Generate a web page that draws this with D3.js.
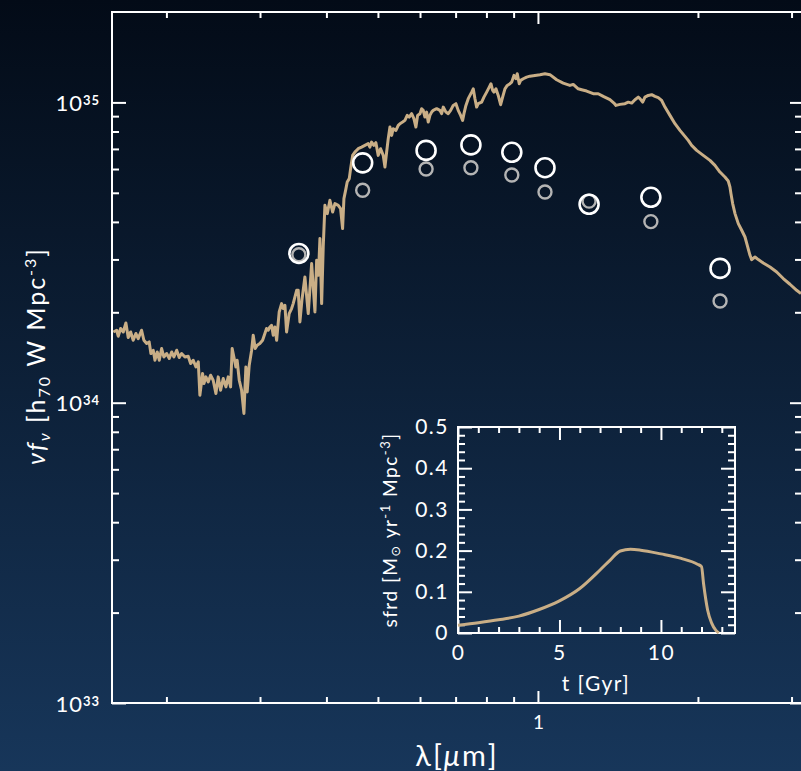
<!DOCTYPE html>
<html lang="en">
<head>
  <meta charset="UTF-8">
  <script src="https://d3js.org/d3.v7.min.js"></script>
  <style>
    body { margin: 0; background: #0b1f38; }
    svg { display: block; }
    text { font-family: Lato, "Open Sans", "DejaVu Sans", sans-serif; fill: #fff; }
  </style>
</head>
<body>
<script>
  // photometric points (micron) and luminosity densities in units of 1e34
  const bandWave = [0.355, 0.468, 0.616, 0.748, 0.893, 1.031, 1.248, 1.631, 2.201];
  const whiteFlux = [3.14, 6.29, 6.92, 7.22, 6.82, 6.06, 4.58, 4.83, 2.80];
  const greyFlux = [3.11, 5.10, 6.00, 6.06, 5.73, 5.03, 4.69, 4.01, 2.18];

  // model spectrum, wavelength in micron, flux in units of 1e34
  const specWave = [
    0.1589, 0.1612, 0.1623, 0.1640, 0.1659, 0.1678, 0.1695, 0.1713, 0.1732, 0.1752,
    0.1770, 0.1796, 0.1814, 0.1836, 0.1856, 0.1870, 0.1889, 0.1903, 0.1922, 0.1939,
    0.1959, 0.1978, 0.2002, 0.2025, 0.2046, 0.2066, 0.2091, 0.2114, 0.2136, 0.2167,
    0.2198, 0.2221, 0.2246, 0.2273, 0.2296, 0.2312, 0.2339, 0.2353, 0.2373, 0.2397,
    0.2422, 0.2449, 0.2478, 0.2503, 0.2529, 0.2558, 0.2588, 0.2614, 0.2641, 0.2659,
    0.2679, 0.2702, 0.2717, 0.2742, 0.2770, 0.2798, 0.2822, 0.2838, 0.2863, 0.2893,
    0.2913, 0.2938, 0.2964, 0.2998, 0.3034, 0.3064, 0.3086, 0.3108, 0.3131, 0.3154,
    0.3177, 0.3200, 0.3224, 0.3260, 0.3294, 0.3317, 0.3342, 0.3366, 0.3404, 0.3440,
    0.3464, 0.3516,
    0.3540, 0.3566, 0.3597, 0.3644, 0.3697, 0.3752, 0.3806, 0.3834, 0.3864, 0.3889,
    0.3918, 0.3945, 0.3974, 0.4015, 0.4061, 0.4109, 0.4150, 0.4210,
    0.4253, 0.4290, 0.4315, 0.4353, 0.4377, 0.4416, 0.4442, 0.4481, 0.4525, 0.4590,
    0.4658, 0.4725, 0.4793, 0.4829, 0.4864, 0.4913, 0.4956, 0.5006, 0.5058, 0.5116,
    0.5154, 0.5192, 0.5228, 0.5267, 0.5306, 0.5342, 0.5405, 0.5460, 0.5500, 0.5564,
    0.5620, 0.5676, 0.5726, 0.5786, 0.5843, 0.5894, 0.5938, 0.5998, 0.6042, 0.6084,
    0.6129, 0.6174, 0.6217, 0.6263, 0.6310, 0.6353, 0.6448, 0.6540, 0.6589, 0.6635,
    0.6713, 0.6780, 0.6851, 0.6928, 0.7010, 0.7080, 0.7155, 0.7216, 0.7258, 0.7320,
    0.7394, 0.7449, 0.7504, 0.7556, 0.7612, 0.7668, 0.7721, 0.7836, 0.7914, 0.8008,
    0.8098, 0.8158, 0.8218, 0.8264, 0.8337, 0.8420, 0.8508, 0.8582, 0.8668, 0.8755,
    0.8859, 0.8925, 0.9013, 0.9091, 0.9143, 0.9222, 0.9277, 0.9383, 0.9522, 0.9659,
    0.9871, 1.0087, 1.0309, 1.0534,
    1.0844, 1.1157, 1.1486, 1.1652, 1.1906, 1.2083, 1.2348, 1.2706, 1.2986, 1.3270,
    1.3661, 1.3900, 1.4022, 1.4267, 1.4579, 1.4789, 1.5008, 1.5224, 1.5443, 1.5557,
    1.5741, 1.5898, 1.6127, 1.6366, 1.6601, 1.6840, 1.7091, 1.7338, 1.7717, 1.8105,
    1.8501, 1.8906, 1.9178, 1.9463, 1.9889, 2.0464, 2.1068, 2.1528, 2.2000, 2.2481,
    2.2805, 2.2974, 2.3075, 2.3245, 2.3482, 2.3820, 2.4174, 2.4521, 2.4765, 2.5058,
    2.5243, 2.5606, 2.5975, 2.6543, 2.7325, 2.8129, 2.8943, 2.9796, 3.0673, 3.1250
  ];
  const specFlux = [
    1.720, 1.743, 1.665, 1.766, 1.720, 1.843, 1.648, 1.720, 1.614, 1.700,
    1.635, 1.743, 1.614, 1.574, 1.594, 1.458, 1.495, 1.385, 1.476, 1.385,
    1.515, 1.420, 1.458, 1.403, 1.476, 1.420, 1.495, 1.414, 1.458, 1.420,
    1.428, 1.350, 1.385, 1.316, 1.367, 1.059, 1.251, 1.158, 1.219, 1.173,
    1.235, 1.188, 1.073, 1.219, 1.100, 1.204, 1.129, 1.219, 1.129, 1.515,
    1.420, 1.316, 1.385, 1.188, 1.100, 0.921, 1.316, 1.086, 1.333, 1.495,
    1.677, 1.515, 1.554, 1.574, 1.614, 1.700, 1.766, 1.743, 1.787, 1.811,
    1.677, 1.787, 1.614, 2.005, 2.138, 2.058, 2.111, 1.720, 1.980, 2.058,
    2.138, 2.368,
    2.368, 1.857, 2.193, 2.622, 1.980, 2.905, 2.005, 2.980, 2.657, 3.519,
    2.138, 3.300, 4.542, 4.263, 4.720, 4.315, 4.602, 4.542,
    4.430, 3.800, 4.781, 5.162, 5.430, 5.573, 6.017, 6.662, 6.832, 7.013,
    7.100, 7.193, 7.288, 7.100, 7.378, 7.193, 7.344, 6.662, 7.013, 6.662,
    6.091, 6.832, 7.572, 8.276, 7.766, 8.175, 8.069, 8.385, 8.494, 8.600,
    8.712, 9.052, 8.936, 9.172, 8.828, 8.276, 9.052, 9.172, 9.528, 9.406,
    8.936, 9.284, 8.600, 9.052, 9.284, 9.406, 9.528, 9.406, 9.172, 9.647,
    9.284, 9.172, 9.406, 9.772, 9.901, 9.406, 9.052, 8.712, 9.172, 9.772,
    10.29, 10.55, 10.82, 11.10, 10.29, 9.647, 9.901, 10.02, 10.41, 10.82,
    11.24, 11.54, 10.96, 10.82, 11.10, 10.55, 9.826, 10.41, 11.10, 11.39,
    11.54, 11.68, 12.30, 11.99, 12.46, 11.54, 11.84, 11.99, 12.14, 12.23,
    12.30, 12.37, 12.46, 12.37,
    11.90, 11.60, 11.39, 11.48, 11.10, 11.02, 10.91, 10.69, 10.69, 10.47,
    10.21, 9.947, 9.772, 9.849, 9.901, 10.02, 9.947, 10.21, 10.41, 10.29,
    10.02, 10.41, 10.55, 10.61, 10.47, 10.37, 10.15, 9.647, 9.052, 8.494,
    8.069, 7.707, 7.474, 7.193, 6.922, 6.662, 6.412, 6.170, 5.862, 5.642,
    5.472, 5.226, 4.968, 4.602, 4.263, 3.948, 3.751, 3.563, 3.343, 3.097,
    2.996, 3.057, 2.996, 2.919, 2.831, 2.725, 2.591, 2.480, 2.368, 2.308
  ];

  // inset: star formation rate density history
  const sfrdTime = [0, 1, 2, 3, 4, 5, 6, 7, 7.5, 8, 8.5, 9, 10, 11, 11.8, 12.0, 12.1, 12.3, 12.5, 12.7, 12.85];
  const sfrdRate = [0.019, 0.025, 0.032, 0.041, 0.057, 0.078, 0.108, 0.153, 0.177, 0.199, 0.203, 0.201, 0.192, 0.181, 0.167, 0.161, 0.12, 0.056, 0.024, 0.007, 0];

  const yDecades = [33, 34, 35];
  const xMinorTicks = [0.2, 0.3, 0.4, 0.5, 0.6, 0.7, 0.8, 0.9, 2, 3];
  const xMajorTicks = [1];
  const insetXMajor = [0, 5, 10];
  const insetYMajor = [0, 0.1, 0.2, 0.3, 0.4, 0.5];

  const width = 801, height = 771;
  const lineColor = "#c9ae86";

  const svg = d3.select("body").append("svg")
    .attr("width", width)
    .attr("height", height);

  const grad = svg.append("defs").append("linearGradient")
    .attr("id", "bg").attr("x1", 0).attr("y1", 0).attr("x2", 0).attr("y2", 1);
  grad.append("stop").attr("offset", "0%").attr("stop-color", "#030b17");
  grad.append("stop").attr("offset", "100%").attr("stop-color", "#17365a");
  svg.append("rect").attr("width", width).attr("height", height).attr("fill", "url(#bg)");

  svg.append("clipPath").attr("id", "plotclip")
    .append("rect").attr("x", 112).attr("y", 12).attr("width", 690).attr("height", 691);

  // main scales
  const x = d3.scaleLog().domain([0.158, 3.139]).range([112, 802]);
  const y = d3.scaleLog().domain([1e33, 2e35]).range([703, 12]);

  const yMajor = yDecades.map(e => Math.pow(10, e));
  const yMinor = [];
  yDecades.forEach(e => {
    for (let k = 2; k <= 9; k++) {
      const v = k * Math.pow(10, e);
      if (v < 2e35) yMinor.push(v);
    }
  });

  function styleAxis(g) {
    g.select(".domain").remove();
    g.selectAll(".tick line").attr("stroke", "#fff").attr("stroke-width", 2);
  }

  // bottom
  svg.append("g").attr("transform", "translate(0,703)")
    .call(d3.axisBottom(x).tickValues(xMinorTicks).tickSize(-6).tickFormat(""))
    .call(styleAxis);
  svg.append("g").attr("transform", "translate(0,703)")
    .call(d3.axisBottom(x).tickValues(xMajorTicks).tickSize(-12).tickPadding(13).tickFormat(d3.format("d")))
    .call(styleAxis)
    .call(g => g.selectAll("text").attr("font-size", 19).attr("fill", "#fff"));
  // top
  svg.append("g").attr("transform", "translate(0,12)")
    .call(d3.axisTop(x).tickValues(xMinorTicks).tickSize(-6).tickFormat(""))
    .call(styleAxis);
  svg.append("g").attr("transform", "translate(0,12)")
    .call(d3.axisTop(x).tickValues(xMajorTicks).tickSize(-12).tickFormat(""))
    .call(styleAxis);
  // left
  svg.append("g").attr("transform", "translate(112,0)")
    .call(d3.axisLeft(y).tickValues(yMinor).tickSize(-7).tickFormat(""))
    .call(styleAxis);
  svg.append("g").attr("transform", "translate(112,0)")
    .call(d3.axisLeft(y).tickValues(yMajor).tickSize(-14).tickPadding(12).tickFormat(""))
    .call(styleAxis)
    .call(g => g.selectAll(".tick text").each(function (d) {
      const t = d3.select(this).attr("dy", null).attr("y", 8).attr("font-size", 22)
        .attr("letter-spacing", 1).attr("fill", "#fff");
      t.append("tspan").text("10");
      t.append("tspan").attr("font-size", 13).attr("font-weight", "bold").attr("dy", -6).text(Math.round(Math.log10(d)));
    }));
  // right
  svg.append("g").attr("transform", "translate(802,0)")
    .call(d3.axisRight(y).tickValues(yMinor).tickSize(-7).tickFormat(""))
    .call(styleAxis);
  svg.append("g").attr("transform", "translate(802,0)")
    .call(d3.axisRight(y).tickValues(yMajor).tickSize(-12).tickFormat(""))
    .call(styleAxis);

  // frame
  svg.append("rect")
    .attr("x", x.range()[0]).attr("y", y.range()[1])
    .attr("width", x.range()[1] - x.range()[0]).attr("height", y.range()[0] - y.range()[1])
    .attr("fill", "none").attr("stroke", "#fff").attr("stroke-width", 2);

  // spectrum
  const spec = specWave.map((w, i) => ({ w: w, f: specFlux[i] * 1e34 }));
  svg.append("path")
    .datum(spec)
    .attr("clip-path", "url(#plotclip)")
    .attr("d", d3.line().x(d => x(d.w)).y(d => y(d.f)))
    .attr("fill", "none")
    .attr("stroke", lineColor)
    .attr("stroke-width", 3)
    .attr("stroke-linejoin", "round");

  // points
  svg.selectAll(".grey")
    .data(bandWave.map((w, i) => ({ w: w, f: greyFlux[i] * 1e34 })))
    .enter().append("circle")
    .attr("class", "grey")
    .attr("cx", d => x(d.w)).attr("cy", d => y(d.f)).attr("r", 6.5)
    .attr("fill", "none").attr("stroke", "#b4b4b4").attr("stroke-width", 2.4);
  svg.selectAll(".white")
    .data(bandWave.map((w, i) => ({ w: w, f: whiteFlux[i] * 1e34 })))
    .enter().append("circle")
    .attr("class", "white")
    .attr("cx", d => x(d.w)).attr("cy", d => y(d.f)).attr("r", 9.5)
    .attr("fill", "none").attr("stroke", "#fff").attr("stroke-width", 2.6);

  // axis titles
  svg.append("text")
    .attr("x", 457).attr("y", 766)
    .attr("text-anchor", "middle").attr("font-size", 29).attr("letter-spacing", 2)
    .call(t => {
      t.append("tspan").text("λ[");
      t.append("tspan").attr("font-style", "italic").text("μ");
      t.append("tspan").text("m]");
    });

  svg.append("text")
    .attr("transform", "translate(45,356) rotate(-90)")
    .attr("text-anchor", "middle").attr("font-size", 25).attr("letter-spacing", 2)
    .call(t => {
      t.append("tspan").attr("font-style", "italic").text("νf");
      t.append("tspan").attr("font-style", "italic").attr("font-size", 16).attr("dy", 5).text("ν");
      t.append("tspan").attr("dy", -5).text(" [h");
      t.append("tspan").attr("font-size", 16).attr("dy", 5).text("70");
      t.append("tspan").attr("dy", -5).text(" W Mpc");
      t.append("tspan").attr("font-size", 16).attr("dy", -9).text("-3");
      t.append("tspan").attr("dy", 9).text("]");
    });

  // inset
  const ix = d3.scaleLinear().domain([0, 13.65]).range([458, 735]);
  const iy = d3.scaleLinear().domain([0, 0.5]).range([633, 427]);
  const insetXMinor = d3.range(1, 14).filter(v => v % 5 !== 0);
  const insetYMinor = d3.range(0.02, 0.5, 0.02).filter(v => Math.abs(v * 10 - Math.round(v * 10)) > 1e-6);

  const ig = svg.append("g");
  ig.append("g").attr("transform", "translate(0,633)")
    .call(d3.axisBottom(ix).tickValues(insetXMinor).tickSize(-6).tickFormat(""))
    .call(styleAxis);
  ig.append("g").attr("transform", "translate(0,633)")
    .call(d3.axisBottom(ix).tickValues(insetXMajor).tickSize(-13).tickPadding(12).tickFormat(d3.format("d")))
    .call(styleAxis)
    .call(g => g.selectAll("text").attr("font-size", 21).attr("letter-spacing", 1.5).attr("fill", "#fff"));
  ig.append("g").attr("transform", "translate(0,427)")
    .call(d3.axisTop(ix).tickValues(insetXMinor).tickSize(-6).tickFormat(""))
    .call(styleAxis);
  ig.append("g").attr("transform", "translate(0,427)")
    .call(d3.axisTop(ix).tickValues(insetXMajor).tickSize(-13).tickFormat(""))
    .call(styleAxis);
  ig.append("g").attr("transform", "translate(458,0)")
    .call(d3.axisLeft(iy).tickValues(insetYMinor).tickSize(-7).tickFormat(""))
    .call(styleAxis);
  ig.append("g").attr("transform", "translate(458,0)")
    .call(d3.axisLeft(iy).tickValues(insetYMajor).tickSize(-14).tickPadding(9).tickFormat(d => d === 0 ? "0" : d3.format(".1f")(d)))
    .call(styleAxis)
    .call(g => g.selectAll("text").attr("font-size", 21).attr("letter-spacing", 1.5).attr("fill", "#fff"));
  ig.append("g").attr("transform", "translate(735,0)")
    .call(d3.axisRight(iy).tickValues(insetYMinor).tickSize(-7).tickFormat(""))
    .call(styleAxis);
  ig.append("g").attr("transform", "translate(735,0)")
    .call(d3.axisRight(iy).tickValues(insetYMajor).tickSize(-14).tickFormat(""))
    .call(styleAxis);

  ig.append("rect")
    .attr("x", 458).attr("y", 427).attr("width", 735 - 458).attr("height", 633 - 427)
    .attr("fill", "none").attr("stroke", "#fff").attr("stroke-width", 2);

  ig.append("path")
    .datum(sfrdTime.map((t, i) => ({ t: t, v: sfrdRate[i] })))
    .attr("d", d3.line().x(d => ix(d.t)).y(d => iy(d.v)).curve(d3.curveMonotoneX))
    .attr("fill", "none").attr("stroke", lineColor).attr("stroke-width", 3);

  ig.append("text")
    .attr("x", 596).attr("y", 691)
    .attr("text-anchor", "middle").attr("font-size", 21).attr("letter-spacing", 1.5)
    .text("t  [Gyr]");

  ig.append("text")
    .attr("transform", "translate(397,530) rotate(-90)")
    .attr("text-anchor", "middle").attr("font-size", 19).attr("letter-spacing", 1.5)
    .call(t => {
      t.append("tspan").text("sfrd [M");
      t.append("tspan").attr("font-size", 13).attr("dy", 3).text("⊙");
      t.append("tspan").attr("dy", -3).text(" yr");
      t.append("tspan").attr("font-size", 13).attr("dy", -7).text("-1");
      t.append("tspan").attr("dy", 7).text(" Mpc");
      t.append("tspan").attr("font-size", 13).attr("dy", -7).text("-3");
      t.append("tspan").attr("dy", 7).text("]");
    });
</script>
</body>
</html>
